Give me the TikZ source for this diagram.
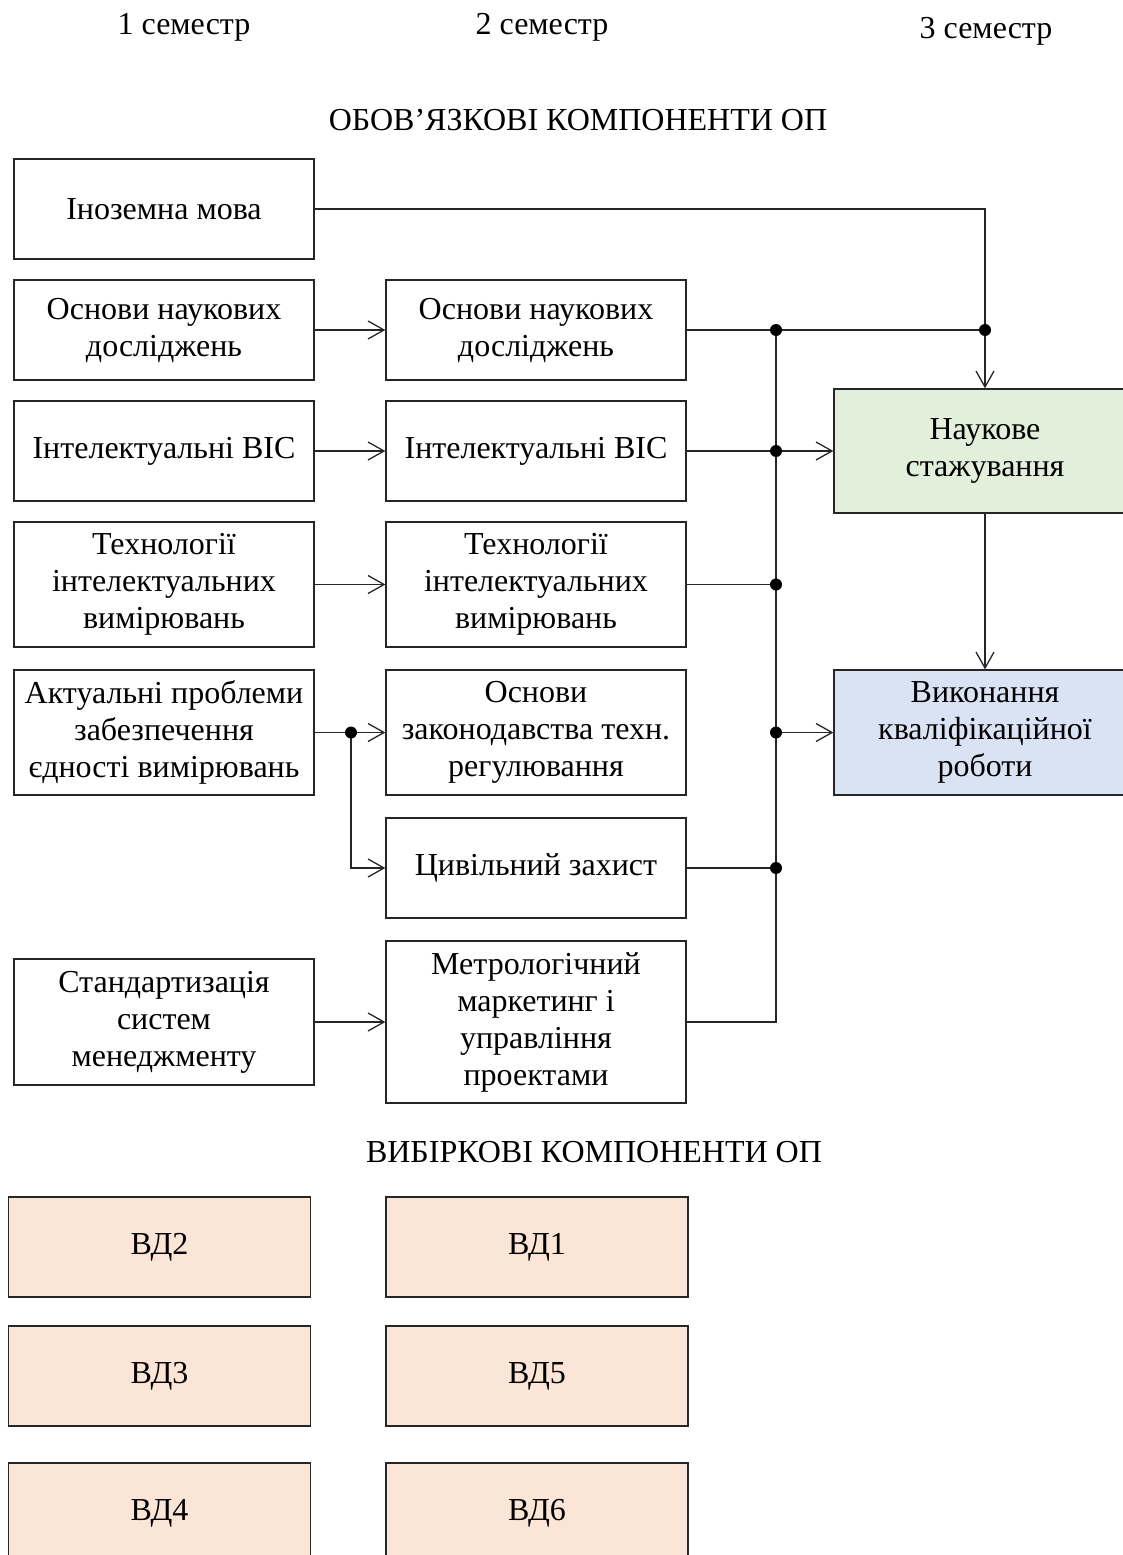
\documentclass[tikz,border=0pt]{standalone}
\usepackage{fontspec}
\setmainfont{Liberation Serif}
\usetikzlibrary{arrows.meta}
\definecolor{lgreen}{HTML}{E2EFDA}
\definecolor{lblue}{HTML}{DAE3F3}
\definecolor{lorange}{HTML}{FBE5D6}
\definecolor{linec}{HTML}{262626}
\tikzset{
  txt/.style={font=\fontsize{32}{37}\selectfont, text=black},
  box/.style={txt, draw=linec, line width=1.3pt, rectangle, align=center, inner sep=0pt,
    minimum width=300pt, minimum height=100pt},
  tall/.style={minimum height=125pt},
  green/.style={box, fill=lgreen, minimum width=302pt, minimum height=124pt},
  blue/.style={box, fill=lblue, minimum width=302pt, minimum height=125pt},
  vd/.style={box, fill=lorange, minimum width=302pt},
  conn/.style={draw=linec, line width=1.3pt},
  arr/.style={conn, -{Straight Barb[length=16pt,width=18pt]}},
  jdot/.style={circle, fill=black, inner sep=0pt, minimum size=12pt},
}
\begin{document}
\begin{tikzpicture}[x=1pt, y=-1pt]
\useasboundingbox (0,0) rectangle (1122,1555);
% headers
\node[txt, anchor=base] (s1) at (184,35) {1 семестр};
\node[txt, anchor=base] (s2) at (542,35) {2 семестр};
\node[txt, anchor=base] (s3) at (986,39) {3 семестр};
\node[txt, anchor=base] (hob) at (578,130) {ОБОВ’ЯЗКОВІ КОМПОНЕНТИ ОП};
\node[txt, anchor=base] (hvib) at (594,1162) {ВИБІРКОВІ КОМПОНЕНТИ ОП};
% column 1
\node[box] (inoz) at (164,209) {Іноземна мова};
\node[box] (ond1) at (164,330) {Основи наукових\\досліджень};
\node[box] (ivis1) at (164,451) {Інтелектуальні ВІС};
\node[box, tall] (tiv1) at (164,584.5) {Технології\\інтелектуальних\\вимірювань};
\node[box, tall] (akt) at (164,732.5) {Актуальні проблеми\\забезпечення\\єдності вимірювань};
\node[box, minimum height=126pt] (std) at (164,1022) {Стандартизація\\систем\\менеджменту};
% column 2
\node[box] (ond2) at (536,330) {Основи наукових\\досліджень};
\node[box] (ivis2) at (536,451) {Інтелектуальні ВІС};
\node[box, tall] (tiv2) at (536,584.5) {Технології\\інтелектуальних\\вимірювань};
\node[box, tall] (ozt) at (536,732.5) {Основи\\законодавства техн.\\регулювання};
\node[box] (cz) at (536,868) {Цивільний захист};
\node[box, minimum height=162pt] (mmu) at (536,1022) {Метрологічний\\маркетинг і\\управління\\проектами};
% column 3
\node[green] (nauk) at (985,451) {Наукове\\стажування};
\node[blue] (vyk) at (985,732.5) {Виконання\\кваліфікаційної\\роботи};
% elective
\node[vd] (vd2) at (159.5,1247) {ВД2};
\node[vd] (vd1) at (537,1247) {ВД1};
\node[vd] (vd3) at (159.5,1376) {ВД3};
\node[vd] (vd5) at (537,1376) {ВД5};
\node[vd] (vd4) at (159.5,1513) {ВД4};
\node[vd] (vd6) at (537,1513) {ВД6};
% bus
\coordinate (bus) at (776,0);
\coordinate (split) at (351,732.5);
% connectors
\draw[arr] (inoz.east) -| (nauk.north);
\draw[arr] (ond1) -- (ond2);
\draw[arr] (ivis1) -- (ivis2);
\draw[arr] (tiv1) -- (tiv2);
\draw[arr] (akt.east) -- (ozt.west);
\draw[arr] (split) |- (cz.west);
\draw[arr] (std) -- (mmu);
\draw[conn] (ond2.east) -- (nauk.north |- ond2.east);
\draw[conn] (ond2.east -| bus) -- (mmu.east -| bus) -- (mmu.east);
\draw[arr] (ivis2.east) -- (nauk.west);
\draw[conn] (tiv2.east) -- (tiv2.east -| bus);
\draw[arr] (vyk.west -| bus) -- (vyk.west);
\draw[conn] (cz.east) -- (cz.east -| bus);
\draw[arr] (nauk) -- (vyk);
% junction dots
\node[jdot] (d1) at (ond2.east -| bus) {};
\node[jdot] (d2) at (nauk.north |- ond2.east) {};
\node[jdot] (d3) at (ivis2.east -| bus) {};
\node[jdot] (d4) at (tiv2.east -| bus) {};
\node[jdot] (d5) at (vyk.west -| bus) {};
\node[jdot] (d6) at (cz.east -| bus) {};
\node[jdot] (d7) at (split) {};
\end{tikzpicture}
\end{document}
